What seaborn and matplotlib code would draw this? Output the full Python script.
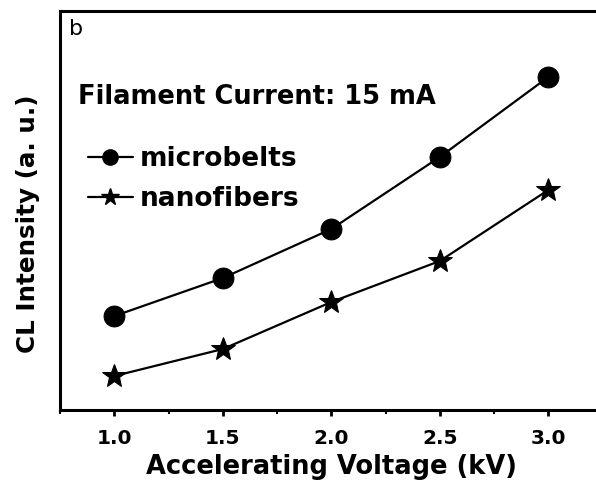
import matplotlib
matplotlib.use("Agg")
import matplotlib.pyplot as plt
import seaborn as sns
import pandas as pd
from matplotlib.ticker import MultipleLocator, NullLocator
from matplotlib.lines import Line2D

voltage = [1.0, 1.5, 2.0, 2.5, 3.0]
microbelts = [0.94, 1.32, 1.81, 2.53, 3.33]
nanofibers = [0.34, 0.61, 1.08, 1.49, 2.20]
x_ticks = [1.0, 1.5, 2.0, 2.5, 3.0]
x_ticklabels = ["1.0", "1.5", "2.0", "2.5", "3.0"]

sns.set_theme(style="ticks", rc={"text.color": "black", "axes.labelcolor": "black",
                                 "xtick.color": "black", "ytick.color": "black"})
plt.rcParams['font.family'] = ['DejaVu Sans']

df = pd.DataFrame({
    "Voltage": voltage * 2,
    "Intensity": microbelts + nanofibers,
    "Sample": ["microbelts"] * len(voltage) + ["nanofibers"] * len(voltage),
})

fig = plt.figure(figsize=(5.96, 4.88), dpi=100)
ax = fig.add_axes([60 / 596, 78 / 488, 542 / 596, 399 / 488])

sns.lineplot(data=df, x="Voltage", y="Intensity", style="Sample",
             markers={"microbelts": "o", "nanofibers": "*"},
             dashes=False, color="black", linewidth=1.6,
             markersize=15, markeredgecolor="black", ax=ax, legend=False)
for line in ax.get_lines():
    if line.get_marker() == "*":
        line.set_markersize(18)

ax.set_xlim(0.749, 3.2476)
ax.set_ylim(0, 3.99)
ax.set_xticks(x_ticks)
ax.set_xticklabels(x_ticklabels, fontsize=14.5, fontweight="bold", color="black")
ax.xaxis.set_minor_locator(MultipleLocator(0.25))
ax.yaxis.set_major_locator(NullLocator())
ax.tick_params(axis="x", which="major", direction="out", length=4, width=2, pad=10, color="black")
ax.tick_params(axis="x", which="minor", direction="out", length=3, width=1.5, color="black")
for s in ax.spines.values():
    s.set_linewidth(2.2)
    s.set_color("black")
    s.set_visible(True)

ax.set_xlabel("Accelerating Voltage (kV)", fontsize=18.5, fontweight="bold",
              labelpad=4, color="black")
ax.set_ylabel("CL Intensity (a. u.)", fontsize=17.7, fontweight="bold", color="black")
ax.yaxis.set_label_coords(-0.036, 0.466)

ax.text(0.017, 0.955, "b", transform=ax.transAxes, fontsize=16, ha="left",
        va="center", color="black")
ax.text(0.033, 0.785, "Filament Current: 15 mA", transform=ax.transAxes,
        fontsize=18.5, fontweight="bold", ha="left", va="center", color="black")

handles = [
    Line2D([], [], color="black", linewidth=1.6, marker="o", markersize=11),
    Line2D([], [], color="black", linewidth=1.6, marker="*", markersize=13),
]
leg = ax.legend(handles, ["microbelts", "nanofibers"], loc="upper left",
                bbox_to_anchor=(0.017, 0.707), frameon=False, handlelength=1.7,
                handletextpad=0.27, labelspacing=0.53, borderaxespad=0.3,
                prop={"size": 19, "weight": "bold"})
for t in leg.get_texts():
    t.set_color("black")

fig.savefig("out.png", dpi=100)
